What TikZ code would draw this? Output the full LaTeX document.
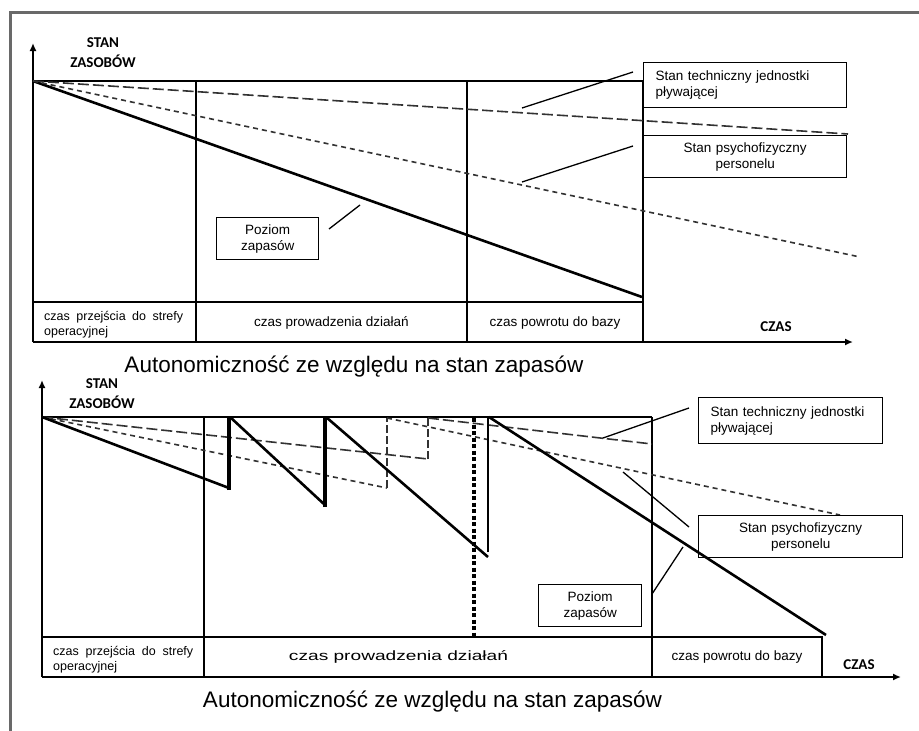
\documentclass[tikz,border=0pt]{standalone}
\usepackage{fontspec}
\setmainfont{Liberation Sans}
\newfontfamily\calibrifont{Carlito}
\usetikzlibrary{arrows.meta}
\definecolor{framegray}{RGB}{105,105,105}
\definecolor{dashgray}{RGB}{50,50,50}
\begin{document}
\begin{tikzpicture}[x=1pt,y=-1pt,
  gridline/.style={line width=1.3pt},
  axisline/.style={line width=1.9pt,-{Latex[length=8pt,width=7pt]}},
  stockline/.style={line width=2.6pt},
  techline/.style={line width=1.6pt,dashgray,dash pattern=on 11pt off 4pt},
  psyline/.style={line width=1.6pt,dashgray,dash pattern=on 5pt off 4pt},
  refuelline/.style={line width=4pt},
  leader/.style={line width=1.3pt},
  lbox/.style={draw,line width=1.3pt,inner sep=0pt,anchor=north west},
  boxtext/.style={font=\fontsize{13.5}{16}\selectfont},
  bandtext/.style={font=\fontsize{13.5}{15}\selectfont},
  bandsmall/.style={font=\fontsize{12.5}{15}\selectfont},
  axtitle/.style={font=\calibrifont\bfseries\fontsize{15}{20}\selectfont,align=center},
  captext/.style={font=\fontsize{22.5}{27}\selectfont},
]
\useasboundingbox (0,0) rectangle (919,731);
\fill[white] (0,0) rectangle (919,731);
\begin{scope}
\clip (0,0) rectangle (919,731);
\draw[line width=3pt,framegray] (10,745) -- (10,12) -- (930,12);
\end{scope}

% ---------------- top chart ----------------
\draw[gridline] (33,81) -- (643,81);
\draw[gridline] (196,81) -- (196,342);
\draw[gridline] (467,81) -- (467,342);
\draw[gridline] (643,81) -- (643,342);
\draw[gridline] (33,302) -- (643,302);
\coordinate (o1) at (33,342);
\coordinate (y1) at (33,43);
\coordinate (x1) at (853,342);
\draw[axisline] (o1) -- (y1);
\draw[axisline] (o1) -- (x1);

\draw[stockline] (33,81) -- (642,297);
\draw[techline] (33,81) -- (848,134);
\draw[psyline] (33,81) -- (860,257);

\node[lbox,boxtext,minimum height=45pt,text width=179pt,inner xsep=12pt,align=left] (tech1) at (643,62) {Stan techniczny jednostki\\pływającej};
\node[lbox,boxtext,minimum height=42pt,text width=203pt,align=center] (psy1) at (643,135) {Stan psychofizyczny\\personelu};
\node[lbox,boxtext,minimum height=42pt,text width=102pt,align=center] (poz1) at (216,217) {Poziom\\zapasów};

\coordinate (tech1a) at (522,108);
\coordinate (tech1b) at (633,72);
\coordinate (psy1a) at (522,182);
\coordinate (psy1b) at (633,146);
\coordinate (poz1a) at (329,229);
\coordinate (poz1b) at (360,205);
\draw[leader] (tech1a) -- (tech1b);
\draw[leader] (psy1a) -- (psy1b);
\draw[leader] (poz1a) -- (poz1b);

\node[axtitle] (zas1) at (103,53) {STAN\\ZASOBÓW};
\node[axtitle] (czas1) at (776,327) {CZAS};
\node[bandsmall,align=left,anchor=west,inner sep=0pt] (b11) at (44,324.5) {\makebox[139pt][s]{czas przejścia do strefy}\\operacyjnej};
\node[bandtext] (b12) at (331.5,323) {czas prowadzenia działań};
\node[bandtext] (b13) at (555,323) {czas powrotu do bazy};
\node[captext] (cap1) at (354,367) {Autonomiczność ze względu na stan zapasów};

% ---------------- bottom chart ----------------
\draw[gridline] (42,417) -- (652,417);
\draw[gridline] (204,417) -- (204,677);
\draw[gridline] (652,417) -- (652,677);
\draw[gridline] (42,637) -- (822,637) -- (822,677);
\coordinate (o2) at (42,677);
\coordinate (y2) at (42,380);
\coordinate (x2) at (901,677);
\draw[axisline] (o2) -- (y2);
\draw[axisline] (o2) -- (x2);

\draw[techline] (42,417) -- (428,459);
\draw[techline,line width=1.3pt,dash pattern=on 8pt off 3pt] (428,459) -- (428,418);
\draw[techline] (428,418) -- (652,444);
\draw[psyline] (42,417) -- (387,488);
\draw[psyline,line width=1.3pt,dash pattern=on 8pt off 3pt] (387,488) -- (387,418);
\draw[psyline] (387,418) -- (840,515);

\draw[stockline] (42,417) -- (229,488);
\draw[refuelline] (229,490) -- (229,417);
\draw[stockline] (230,417) -- (325,505);
\draw[refuelline] (325,507) -- (325,417);
\draw[stockline] (326,417) -- (488,557);
\draw[line width=2.6pt] (488,552) -- (488,417);
\draw[stockline] (489,417) -- (826,635);
\draw[line width=4.5pt,dash pattern=on 4pt off 2.5pt] (474,418) -- (474,637);

\node[lbox,boxtext,minimum height=46pt,text width=160pt,inner xsep=12pt,align=left] (tech2) at (698,397) {Stan techniczny jednostki\\pływającej};
\node[lbox,boxtext,minimum height=42pt,text width=204pt,align=center] (psy2) at (698,515) {Stan psychofizyczny\\personelu};
\node[lbox,boxtext,minimum height=42pt,text width=103pt,align=center] (poz2) at (538,584) {Poziom\\zapasów};

\coordinate (tech2a) at (603,438);
\coordinate (tech2b) at (689,408);
\coordinate (psy2a) at (623,472);
\coordinate (psy2b) at (689,527);
\coordinate (poz2a) at (652,594);
\coordinate (poz2b) at (683,547);
\draw[leader] (tech2a) -- (tech2b);
\draw[leader] (psy2a) -- (psy2b);
\draw[leader] (poz2a) -- (poz2b);

\node[axtitle] (zas2) at (102,393.5) {STAN\\ZASOBÓW};
\node[axtitle] (czas2) at (859,665) {CZAS};
\node[bandsmall,align=left,anchor=west,inner sep=0pt] (b21) at (53,659.5) {\makebox[140pt][s]{czas przejścia do strefy}\\operacyjnej};
\node[bandtext] (b22) at (398.5,657) {\resizebox{219pt}{\height}{czas prowadzenia działań}};
\node[bandtext] (b23) at (737,657) {czas powrotu do bazy};
\node[captext] (cap2) at (432.5,702) {Autonomiczność ze względu na stan zapasów};
\end{tikzpicture}
\end{document}
